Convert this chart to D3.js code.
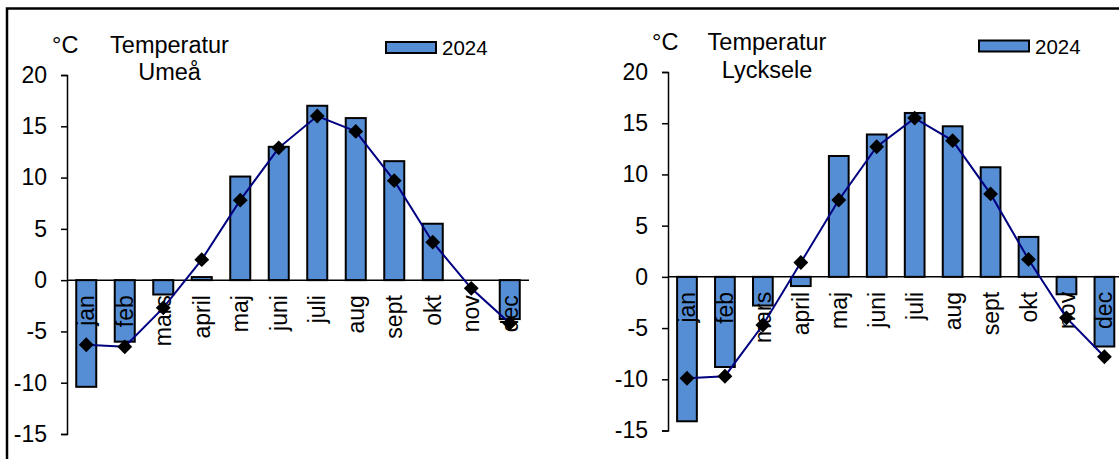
<!DOCTYPE html>
<html>
<head>
<meta charset="utf-8">
<script src="https://cdn.jsdelivr.net/npm/d3@7"></script>
<style>
  html, body { margin: 0; padding: 0; background: #fff; }
  svg { display: block; font-family: "Liberation Sans", Arial, sans-serif; }
</style>
</head>
<body>
<svg id="chart" width="1119" height="459"></svg>
<script>
const months = ["jan","feb","mars","april","maj","juni","juli","aug","sept","okt","nov","dec"];
const yTicks = [20, 15, 10, 5, 0, -5, -10, -15];
const seriesName = "2024";

const umeaBars = [-10.4, -6.0, -1.4, 0.3, 10.1, 13.0, 17.0, 15.8, 11.6, 5.5, 0.0, -3.8];
const umeaLine = [-6.3, -6.5, -2.7, 2.0, 7.8, 12.9, 16.0, 14.5, 9.7, 3.7, -0.8, -4.2];

const lyckBars = [-14.1, -8.8, -2.8, -0.9, 11.8, 13.9, 16.0, 14.7, 10.7, 3.9, -1.7, -6.8];
const lyckLine = [-9.9, -9.7, -4.7, 1.4, 7.5, 12.7, 15.5, 13.3, 8.1, 1.7, -4.0, -7.8];

const svg = d3.select("#chart");

// outer frame
svg.append("rect").attr("x", 7).attr("y", 8.5).attr("width", 1300).attr("height", 700)
  .attr("fill", "none").attr("stroke", "#000").attr("stroke-width", 2.5);

function drawChart(cfg) {
  const g = svg.append("g");
  const x = d3.scaleBand().domain(months).range([cfg.x0, cfg.x1]).paddingInner(0.48).paddingOuter(0.24);
  const y = d3.scaleLinear().domain([-15, 20]).range([cfg.yBottom, cfg.yTop]);

  // y axis
  const yAxis = g.append("g").attr("transform", `translate(${cfg.x0},0)`)
    .call(d3.axisLeft(y).tickValues(yTicks).tickSize(6).tickSizeOuter(6).tickPadding(14).tickFormat(d3.format("d")));
  yAxis.selectAll("path, line").attr("stroke", "#000").attr("stroke-width", 1.5);
  yAxis.selectAll("text").attr("font-size", 23).attr("fill", "#000")
    .attr("font-family", "Liberation Sans, Arial, sans-serif").text(d => d < 0 ? "-" + Math.abs(d) : d);

  // bars
  g.selectAll("rect.bar").data(cfg.bars).join("rect").attr("class", "bar")
    .attr("x", (d, i) => x(months[i]))
    .attr("width", x.bandwidth())
    .attr("y", d => y(Math.max(0, d)))
    .attr("height", d => Math.abs(y(d) - y(0)))
    .attr("fill", "#558ed5").attr("stroke", "#000").attr("stroke-width", 2);

  // x axis line at 0
  g.append("line").attr("x1", cfg.x0).attr("x2", cfg.x1).attr("y1", y(0)).attr("y2", y(0))
    .attr("stroke", "#000").attr("stroke-width", 1.5);

  // month labels
  g.selectAll("text.month").data(months).join("text").attr("class", "month")
    .attr("transform", d => `translate(${x(d) + x.bandwidth() / 2},${y(0) + 15}) rotate(-90)`)
    .attr("text-anchor", "end").attr("dy", "0.35em")
    .attr("font-size", 23).attr("fill", "#000").text(d => d);

  // line
  const line = d3.line().x((d, i) => x(months[i]) + x.bandwidth() / 2).y(d => y(d));
  g.append("path").datum(cfg.line).attr("d", line)
    .attr("fill", "none").attr("stroke", "#000080").attr("stroke-width", 2);

  const sym = d3.symbol().type(d3.symbolSquare).size(110);
  g.selectAll("path.mk").data(cfg.line).join("path").attr("class", "mk")
    .attr("d", sym)
    .attr("transform", (d, i) => `translate(${x(months[i]) + x.bandwidth() / 2},${y(d)}) rotate(45)`)
    .attr("fill", "#000");

  // titles
  g.append("text").attr("x", cfg.unitX).attr("y", cfg.titleY).attr("font-size", 23.5).text("°C");
  g.append("text").attr("x", cfg.titleCx).attr("y", cfg.titleY).attr("text-anchor", "middle")
    .attr("font-size", 23.5).text("Temperatur");
  g.append("text").attr("x", cfg.titleCx).attr("y", cfg.subY).attr("text-anchor", "middle")
    .attr("font-size", 23.5).text(cfg.place);

  // legend
  g.append("rect").attr("x", cfg.legX).attr("y", cfg.legY).attr("width", 50).attr("height", 11)
    .attr("fill", "#558ed5").attr("stroke", "#000").attr("stroke-width", 2);
  g.append("text").attr("x", cfg.legX + 56).attr("y", cfg.legY + 13).attr("font-size", 20.5).text(seriesName);
}

drawChart({ x0: 67, x1: 529, yTop: 75, yBottom: 434, bars: umeaBars, line: umeaLine,
  unitX: 52, titleCx: 169.5, titleY: 52.5, subY: 80, place: "Umeå", legX: 386, legY: 42 });

drawChart({ x0: 668, x1: 1123.4, yTop: 72, yBottom: 430.5, bars: lyckBars, line: lyckLine,
  unitX: 652, titleCx: 767, titleY: 50, subY: 77.5, place: "Lycksele", legX: 979, legY: 40.5 });
</script>
</body>
</html>
